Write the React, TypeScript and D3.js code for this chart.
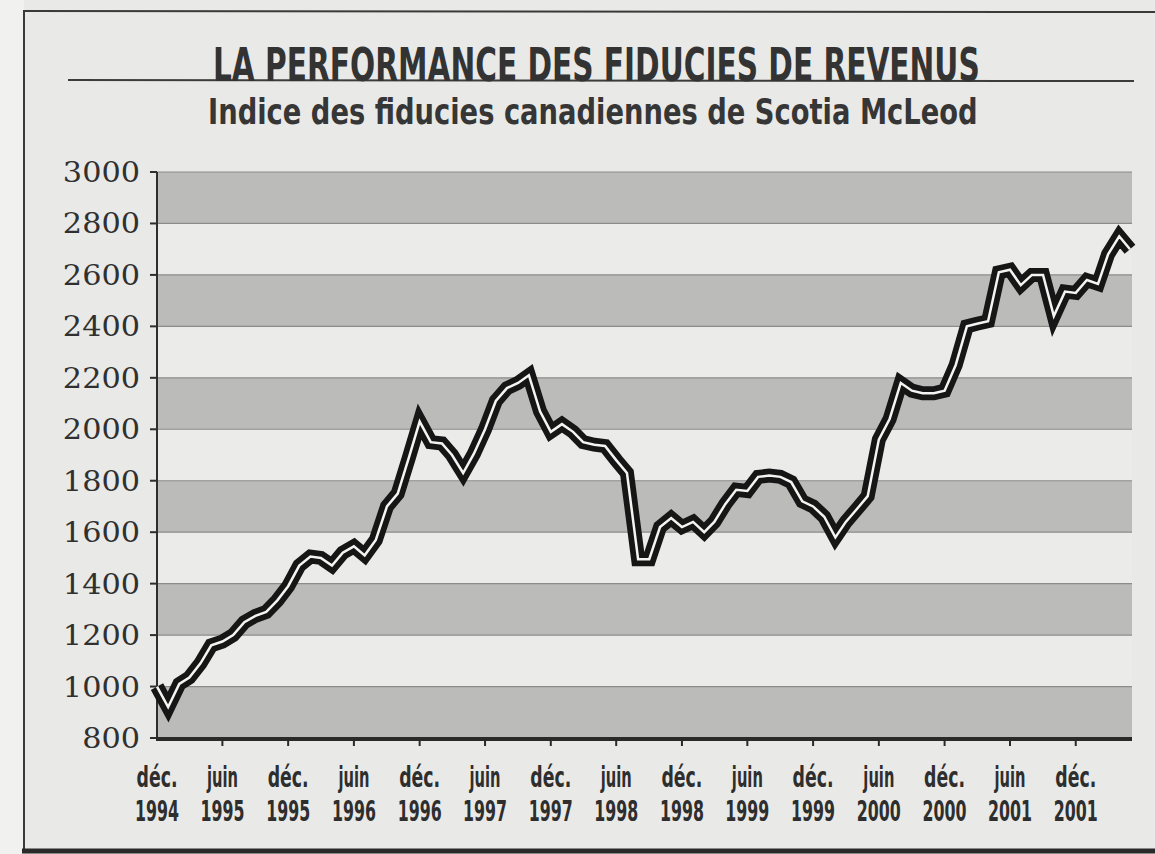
import { useLayoutEffect, useRef, useState } from 'react';
import * as d3 from 'd3';

// Indice des fiducies canadiennes de Scotia McLeod, monthly, déc. 1994 -> mai 2002
const startMonth = new Date(1994, 11, 1);
const indexValues = [
  1000, 920, 1010, 1035, 1090, 1160, 1175, 1200, 1250, 1275,
  1290, 1335, 1390, 1470, 1505, 1500, 1470, 1520, 1545, 1510,
  1570, 1700, 1750, 1890, 2030, 1950, 1945, 1900, 1830, 1905,
  2000, 2110, 2160, 2180, 2210, 2070, 1990, 2020, 1990, 1950,
  1940, 1935, 1880, 1830, 1495, 1495, 1620, 1655, 1620, 1640,
  1600, 1640, 1710, 1765, 1760, 1815, 1820, 1815, 1795, 1720,
  1700, 1660, 1580, 1640, 1690, 1740, 1960, 2040, 2180, 2150,
  2140, 2140, 2150, 2250, 2400, 2410, 2420, 2610, 2620, 2560,
  2600, 2600, 2440, 2535, 2530, 2580, 2565, 2680, 2750, 2700,
];
const months = d3.timeMonth.range(startMonth, d3.timeMonth.offset(startMonth, indexValues.length));

const yTicks = [800, 1000, 1200, 1400, 1600, 1800, 2000, 2200, 2400, 2600, 2800, 3000];
const greyBands = [[800, 1000], [1200, 1400], [1600, 1800], [2000, 2200], [2400, 2600], [2800, 3000]];
const tickMonthLabels = ['déc.', 'juin', 'déc.', 'juin', 'déc.', 'juin', 'déc.', 'juin', 'déc.', 'juin', 'déc.', 'juin', 'déc.', 'juin', 'déc.'];
const tickYearLabels = ['1994', '1995', '1995', '1996', '1996', '1997', '1997', '1998', '1998', '1999', '1999', '2000', '2000', '2001', '2001'];

const title = 'LA PERFORMANCE DES FIDUCIES DE REVENUS';
const subtitle = 'Indice des fiducies canadiennes de Scotia McLeod';

const sans = '"DejaVu Sans", "Liberation Sans", sans-serif';

// squeeze a text horizontally to a given width (the original uses a condensed face)
function FitText({ x, y, width, anchor = 'start', size, weight = 'normal', fill = '#2a2a2a', family = sans, children }: any) {
  const ref = useRef<SVGTextElement>(null);
  const [scale, setScale] = useState(1);
  useLayoutEffect(() => {
    if (!ref.current) return;
    const w = ref.current.getComputedTextLength();
    if (w > 0) setScale(width / w);
  }, [width, children, size]);
  return (
    <g transform={`translate(${x},${y}) scale(${scale},1)`}>
      <text ref={ref} x={0} y={0} textAnchor={anchor} fontFamily={family} fontSize={size}
        fontWeight={weight} fill={fill}>{children}</text>
    </g>
  );
}

export default function App() {
  const width = 1155;
  const height = 854;
  const left = 157;
  const right = 1132;
  const top = 172;
  const bottom = 738;

  const x = d3.scaleTime()
    .domain([startMonth, d3.timeMonth.offset(startMonth, 89)])
    .range([left, 1130]);
  const y = d3.scaleLinear().domain([800, 3000]).range([bottom, top]);

  const line = d3.line<number>()
    .x((_, i) => x(months[i]))
    .y(d => y(d));
  const path = line(indexValues) || '';

  const tickDates = tickMonthLabels.map((_, i) => d3.timeMonth.offset(startMonth, i * 6));

  return (
    <svg width={width} height={height} style={{ position: 'absolute', left: 0, top: 0, background: '#e9e9e7' }}>
      <rect x={0} y={0} width={24} height={height} fill="#f1f1ef" />
      {/* frame */}
      <line x1={24} y1={11} x2={width} y2={12} stroke="#3a3a3a" strokeWidth={2} />
      <line x1={24} y1={10} x2={24} y2={852} stroke="#3a3a3a" strokeWidth={2} />
      <line x1={22} y1={851} x2={width} y2={851} stroke="#2a2a2a" strokeWidth={5} />

      {/* title */}
      <line x1={68} y1={80} x2={1134} y2={81} stroke="#3c3c3c" strokeWidth={2} />
      <FitText x={213} y={81} width={767} size={46} weight="bold" fill="#333">{title}</FitText>
      <FitText x={208} y={124} width={770} size={36} weight="bold" fill="#363636">{subtitle}</FitText>

      {/* bands */}
      <rect x={left} y={top} width={right - left} height={bottom - top} fill="#ebebea" />
      {greyBands.map(([a, b]) => (
        <rect key={a} x={left} y={y(b)} width={right - left} height={y(a) - y(b)} fill="#bbbbba" />
      ))}
      {yTicks.map(t => (
        <line key={t} x1={left} x2={right} y1={y(t)} y2={y(t)} stroke="#8c8c8c" strokeWidth={1.2} />
      ))}

      {/* y axis */}
      <line x1={left} x2={left} y1={top} y2={bottom} stroke="#2e2e2e" strokeWidth={2} />
      {yTicks.map(t => (
        <g key={t}>
          <line x1={left - 7} x2={left} y1={y(t)} y2={y(t)} stroke="#2e2e2e" strokeWidth={2} />
          <FitText x={140} y={y(t) + 10} anchor="end" width={String(t).length * 19.3} size={28} fill="#303030"
            family='"DejaVu Serif", "Liberation Serif", serif'>{t}</FitText>
        </g>
      ))}

      {/* x axis */}
      <line x1={left - 1} x2={right} y1={bottom + 1} y2={bottom + 1} stroke="#2a2a2a" strokeWidth={4} />
      {tickDates.map((d, i) => (
        <g key={i}>
          {i > 0 && <line x1={x(d)} x2={x(d)} y1={bottom} y2={bottom + 8} stroke="#2a2a2a" strokeWidth={2} />}
          <FitText x={x(d)} y={787} anchor="middle" size={28} weight="bold" fill="#2e2e2e"
            width={tickMonthLabels[i] === 'juin' ? 31 : 41}>{tickMonthLabels[i]}</FitText>
          <FitText x={x(d)} y={821} anchor="middle" size={28} weight="bold" fill="#2e2e2e"
            width={44}>{tickYearLabels[i]}</FitText>
        </g>
      ))}

      {/* index line */}
      <path d={path} fill="none" stroke="#161616" strokeWidth={14} strokeLinejoin="miter" strokeMiterlimit={3} />
      <path d={path} fill="none" stroke="#f4f4f2" strokeWidth={2.5} strokeLinejoin="miter" />
    </svg>
  );
}
